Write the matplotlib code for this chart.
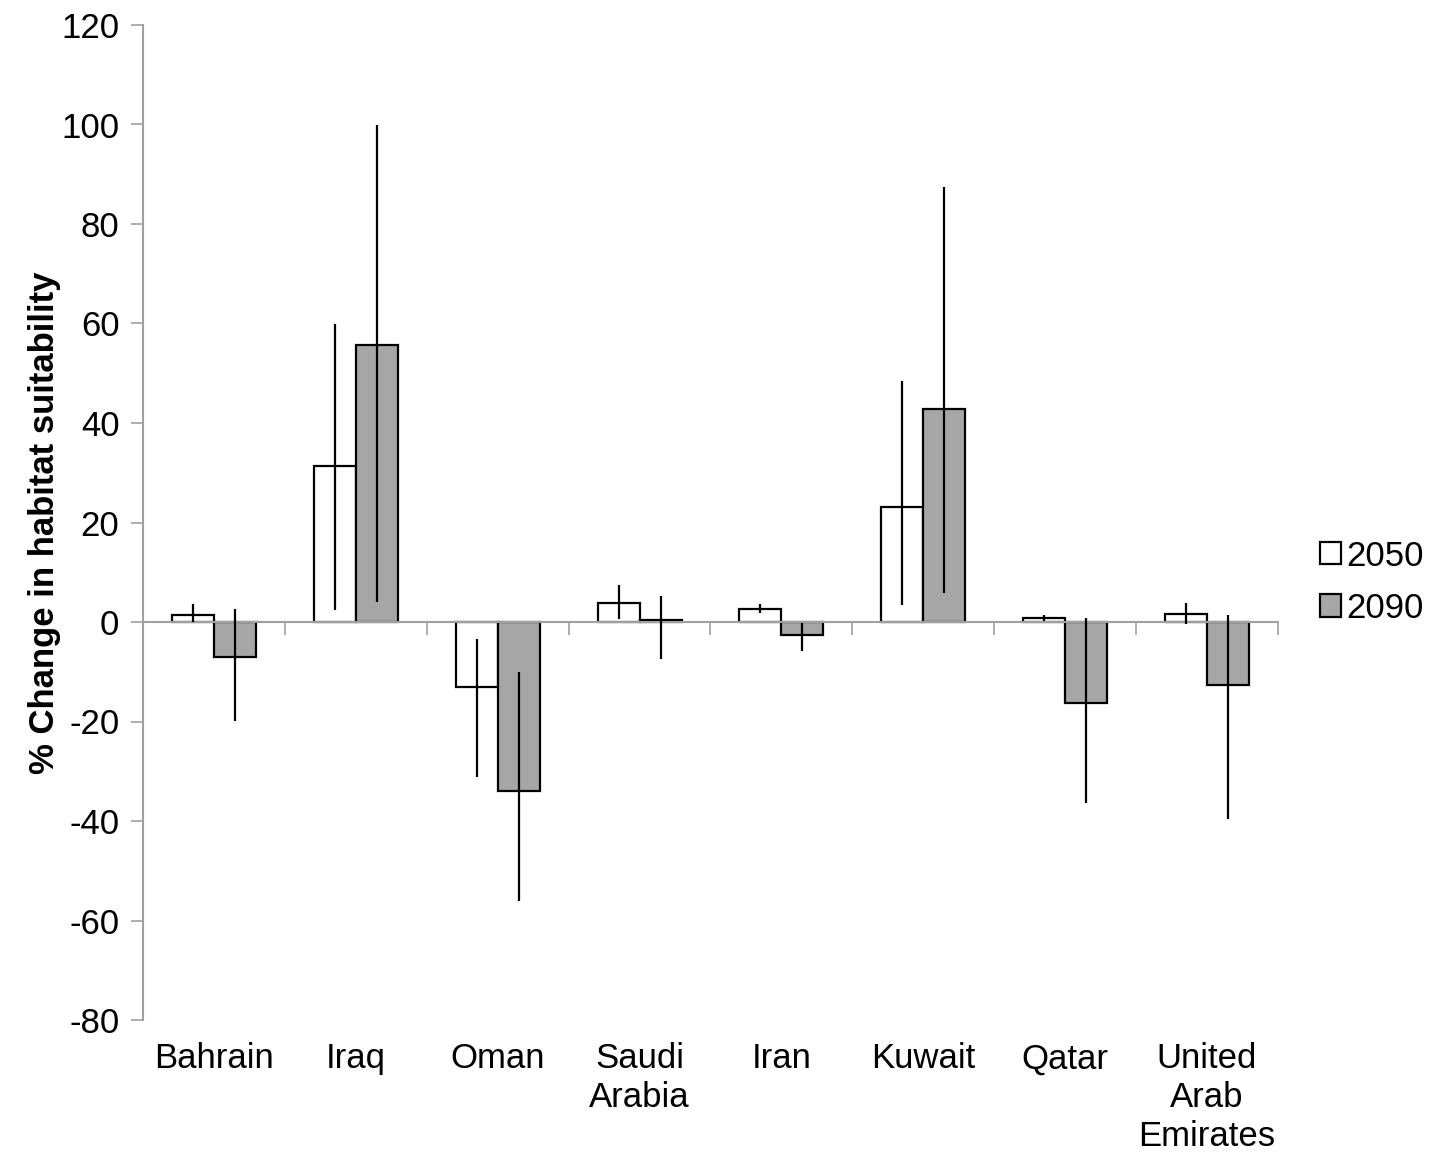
import numpy as np
import matplotlib
matplotlib.use('Agg')
import matplotlib.pyplot as plt
from matplotlib.patches import Patch

plt.rcParams['font.family'] = ['Liberation Sans', 'DejaVu Sans']
plt.rcParams['axes.unicode_minus'] = False

countries = ['Bahrain', 'Iraq', 'Oman', 'Saudi\nArabia', 'Iran', 'Kuwait', 'Qatar', 'United\nArab\nEmirates']
v2050 = [1.4, 31.3, -13.1, 3.9, 2.7, 23.1, 0.9, 1.7]
lo2050 = [0.0, 2.4, -31.2, 0.7, 1.8, 3.4, 0.3, -0.5]
hi2050 = [3.6, 59.8, -3.5, 7.4, 3.6, 48.5, 1.5, 3.9]
v2090 = [-7.0, 55.7, -34.0, 0.4, -2.7, 42.8, -16.2, -12.7]
lo2090 = [-19.8, 4.1, -56.0, -7.5, -5.8, 5.9, -36.3, -39.5]
hi2090 = [2.6, 99.9, -10.1, 5.3, -0.3, 87.4, 0.9, 1.4]

x = np.arange(len(countries))
w = 0.296

fig = plt.figure(figsize=(14.47, 11.56), dpi=100)
ax = fig.add_axes([143/1447, 136/1156, 1135/1447, 995/1156])

ax.bar(x - w/2, v2050, w, color='white', edgecolor='black', linewidth=1.6, label='2050', zorder=2)
ax.bar(x + w/2, v2090, w, color='#a6a6a6', edgecolor='black', linewidth=1.6, label='2090', zorder=2)

err50 = [np.array(v2050) - np.array(lo2050), np.array(hi2050) - np.array(v2050)]
err90 = [np.array(v2090) - np.array(lo2090), np.array(hi2090) - np.array(v2090)]
ax.errorbar(x - w/2, v2050, yerr=err50, fmt='none', ecolor='black', elinewidth=1.6, capsize=0, zorder=3)
ax.errorbar(x + w/2, v2090, yerr=err90, fmt='none', ecolor='black', elinewidth=1.6, capsize=0, zorder=3)

ax.set_xlim(-0.5, len(countries) - 0.5)
ax.set_ylim(-80, 120)
ax.set_yticks(np.arange(-80, 121, 20))
ax.tick_params(axis='y', labelsize=25, length=9, width=1.2, color='#a0a0a0', pad=8)

# x axis line at zero with boundary ticks
ax.spines['bottom'].set_position(('data', 0))
ax.spines['bottom'].set_color('#a0a0a0')
ax.spines['bottom'].set_linewidth(1.5)
ax.spines['left'].set_color('#a0a0a0')
ax.spines['left'].set_linewidth(1.5)
ax.spines['top'].set_visible(False)
ax.spines['right'].set_visible(False)
ax.set_xticks(np.arange(0.5, len(countries), 1.0))
ax.set_xticklabels([])
ax.tick_params(axis='x', length=9, width=1.2, color='#a0a0a0', direction='out')

sec = ax.secondary_xaxis('bottom')
sec.set_xticks(x)
sec.set_xticklabels(countries, fontsize=25, linespacing=1.22)
sec.tick_params(length=0, pad=16)
sec.spines['bottom'].set_visible(False)

ax.set_ylabel('% Change in habitat suitability', fontsize=25, fontweight='bold', labelpad=0)

handles = [Patch(facecolor='white', edgecolor='black', linewidth=1.6, label='2050'),
           Patch(facecolor='#a6a6a6', edgecolor='black', linewidth=1.6, label='2090')]
ax.legend(handles=handles, loc='center left', bbox_to_anchor=(1.025, 0.44), frameon=False,
          fontsize=25, handlelength=0.6, handleheight=0.6, handletextpad=0.15, labelspacing=0.55,
          borderaxespad=0)

plt.savefig('out.png', dpi=100)
